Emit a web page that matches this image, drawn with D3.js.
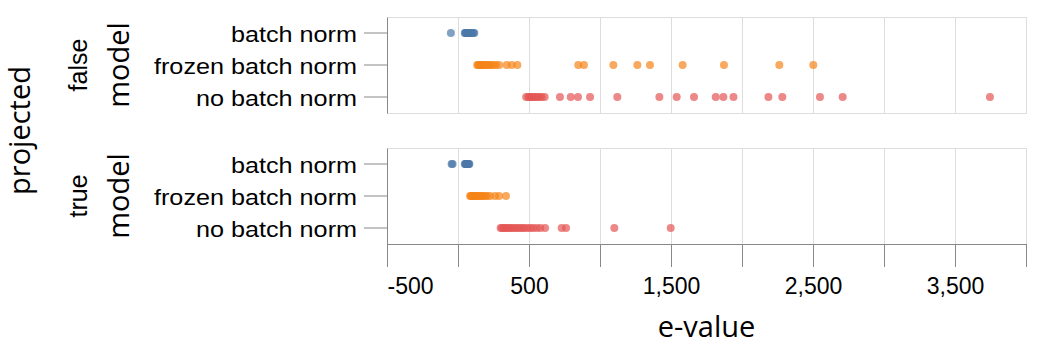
<!DOCTYPE html>
<html>
<head>
<meta charset="utf-8">
<script src="https://cdn.jsdelivr.net/npm/d3@7"></script>
<style>
  body { margin: 0; background: #fff; }
  svg { display: block; }
</style>
</head>
<body>
<svg id="chart" width="1040" height="350"></svg>
<script>
// ---- data ----
const models = ["batch norm", "frozen batch norm", "no batch norm"];
const projectedLevels = ["false", "true"];
const modelColors = ["#4c78a8", "#f58518", "#e45756"];

const xDomain = [-500, 4000];
const xTickValues = [-500, 0, 500, 1000, 1500, 2000, 2500, 3000, 3500, 4000];
const xTickLabelValues = [-500, 500, 1500, 2500, 3500];

// projected = false
const batchNormFalse = [-50, 48, 52, 57, 62, 66, 70, 74, 79, 85, 92, 100, 108, 115];
const frozenBatchNormFalse = [135, 142, 150, 158, 165, 172, 180, 190, 200, 210, 222, 235, 250, 268, 290,
  343, 378, 418, 847, 887, 1094, 1263, 1352, 1582, 1873, 2263, 2502];
const noBatchNormFalse = [480, 495, 505, 515, 525, 535, 548, 560, 575, 590, 610, 718, 794, 845, 930,
  1122, 1418, 1540, 1662, 1815, 1869, 1940, 2186, 2284, 2549, 2709, 3746];

// projected = true
const batchNormTrue = [-45, -38, 48, 52, 56, 60, 64, 68, 72, 76, 80];
const frozenBatchNormTrue = [85, 92, 98, 105, 112, 118, 125, 132, 140, 148, 158, 168, 180, 192, 205,
  225, 261, 289, 338];
const noBatchNormTrue = [300, 310, 320, 330, 342, 355, 368, 380, 395, 410, 425, 440, 455, 470, 490,
  510, 530, 555, 580, 613, 730, 761, 1101, 1498];

const facetSeries = [
  [batchNormFalse, frozenBatchNormFalse, noBatchNormFalse],
  [batchNormTrue, frozenBatchNormTrue, noBatchNormTrue]
];

// ---- layout ----
const plotLeft = 387, plotWidth = 639;
const panelHeight = 96;
const panelTops = [17, 148];
const titleFont = "'Open Sans', sans-serif";
const labelFont = "'Liberation Sans', Arial, sans-serif";
const axisColor = "#888";
const gridColor = "#ddd";

const svg = d3.select("#chart");
const x = d3.scaleLinear().domain(xDomain).range([0, plotWidth]);
const y = d3.scaleBand().domain(models).range([0, panelHeight]);
const color = d3.scaleOrdinal().domain(models).range(modelColors);

const fmt = d3.formatLocale({ decimal: ".", thousands: ",", grouping: [3], currency: ["$", ""], minus: "-" }).format(",");

// stretch helper for wide label text
function widen(sel, factor) {
  sel.each(function () {
    const len = this.getComputedTextLength();
    d3.select(this).attr("textLength", len * factor).attr("lengthAdjust", "spacingAndGlyphs");
  });
}

projectedLevels.forEach((level, i) => {
  const top = panelTops[i];
  const g = svg.append("g").attr("transform", `translate(${plotLeft},${top})`);

  // vertical grid
  g.append("g").selectAll("line")
    .data(xTickValues)
    .join("line")
    .attr("x1", d => Math.round(x(d)) + 0.5).attr("x2", d => Math.round(x(d)) + 0.5)
    .attr("y1", 0).attr("y2", panelHeight)
    .attr("stroke", gridColor).attr("stroke-width", 1);

  // panel frame
  g.append("rect")
    .attr("x", 0.5).attr("y", 0.5)
    .attr("width", plotWidth).attr("height", panelHeight)
    .attr("fill", "none").attr("stroke", gridColor);

  // points
  facetSeries[i].forEach((values, m) => {
    g.append("g").selectAll("circle")
      .data(values)
      .join("circle")
      .attr("cx", d => x(d))
      .attr("cy", y(models[m]) + y.bandwidth() / 2)
      .attr("r", 4)
      .attr("fill", color(models[m]))
      .attr("fill-opacity", 0.7);
  });

  // y axis
  const yAxis = g.append("g")
    .call(d3.axisLeft(y).tickSize(23).tickSizeOuter(0).tickPadding(7));
  yAxis.select(".domain").attr("stroke", axisColor);
  yAxis.selectAll(".tick line").attr("stroke", axisColor);
  yAxis.selectAll(".tick text")
    .attr("font-family", labelFont)
    .attr("font-size", 22)
    .attr("fill", "#000")
    .attr("dy", "0.4em")
    .call(widen, 1.145);

  // y title
  svg.append("text")
    .attr("transform", `translate(129,${top + panelHeight / 2}) rotate(-90)`)
    .attr("text-anchor", "middle")
    .attr("font-family", titleFont)
    .attr("font-size", 29)
    .attr("fill", "#000")
    .text("model");

  // row header
  svg.append("text")
    .attr("transform", `translate(87,${top + panelHeight / 2}) rotate(-90)`)
    .attr("text-anchor", "middle")
    .attr("font-family", labelFont)
    .attr("font-size", 25)
    .attr("fill", "#000")
    .text(level);

  // x axis under the last panel
  if (i === projectedLevels.length - 1) {
    const xAxis = g.append("g")
      .attr("transform", `translate(0,${panelHeight})`)
      .call(d3.axisBottom(x)
        .tickValues(xTickValues)
        .tickSize(23)
        .tickSizeOuter(0)
        .tickPadding(11)
        .tickFormat(d => xTickLabelValues.includes(d) ? fmt(d) : ""));
    xAxis.select(".domain").attr("stroke", axisColor);
    xAxis.selectAll(".tick line").attr("stroke", axisColor);
    xAxis.selectAll(".tick text")
      .attr("font-family", labelFont)
      .attr("font-size", 23)
      .attr("fill", "#000")
      .attr("text-anchor", d => d === xDomain[0] ? "start" : "middle");
  }
});

// facet title
svg.append("text")
  .attr("transform", `translate(30,${(panelTops[0] + panelTops[1] + panelHeight) / 2}) rotate(-90)`)
  .attr("text-anchor", "middle")
  .attr("font-family", titleFont)
  .attr("font-size", 29)
  .attr("fill", "#000")
  .text("projected");

// x title
svg.append("text")
  .attr("x", plotLeft + plotWidth / 2)
  .attr("y", 337)
  .attr("text-anchor", "middle")
  .attr("font-family", titleFont)
  .attr("font-size", 29)
  .attr("fill", "#000")
  .text("e-value");
</script>
</body>
</html>
